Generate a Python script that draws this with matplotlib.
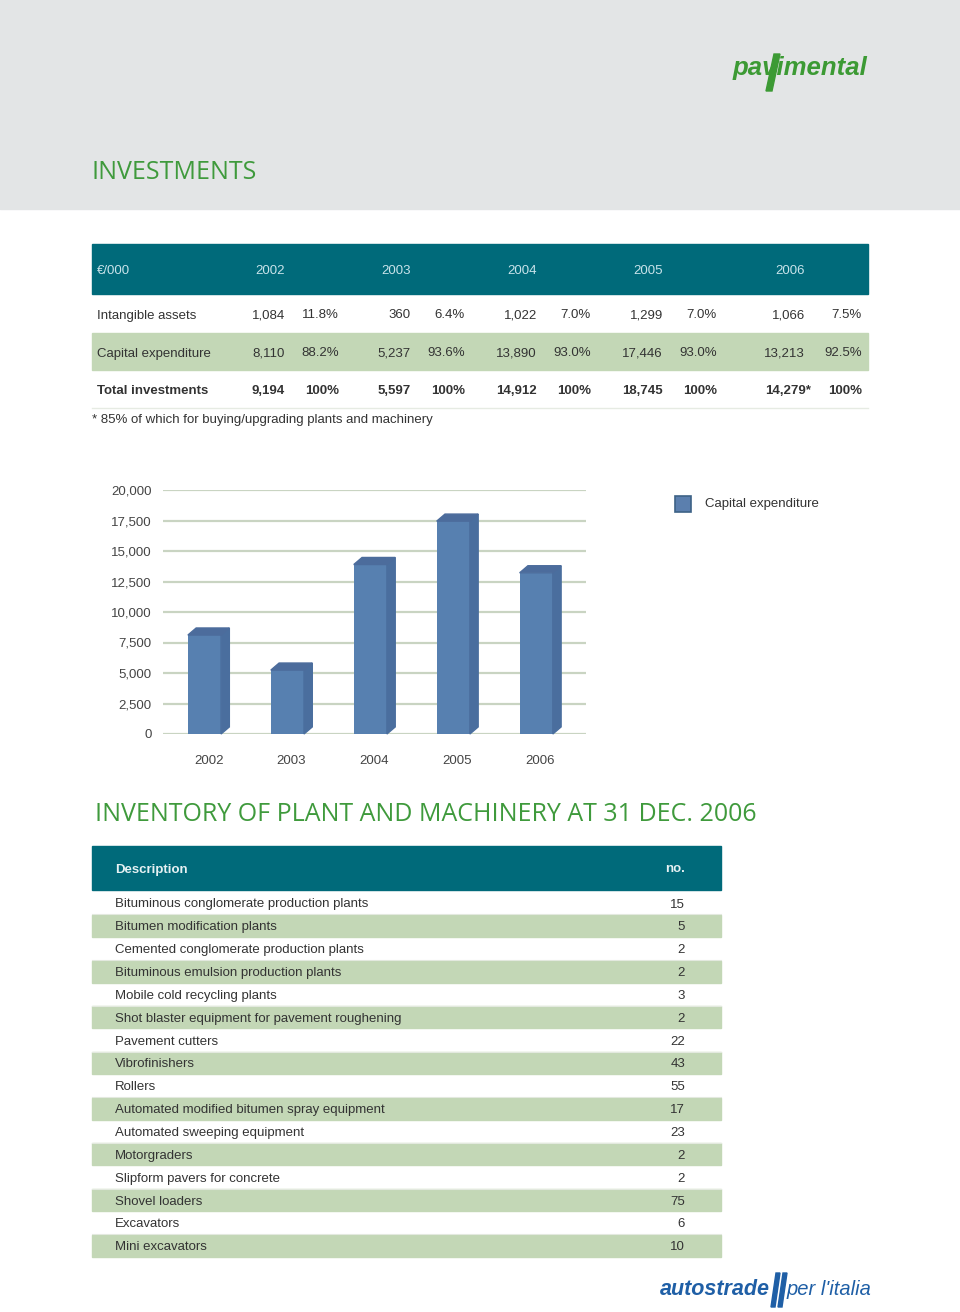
import matplotlib
matplotlib.use("Agg")
import matplotlib.pyplot as plt
from matplotlib.patches import Rectangle, Polygon

plt.rcParams['font.family'] = ['Liberation Sans', 'DejaVu Sans']

# ---- data ----
years = ['2002', '2003', '2004', '2005', '2006']
intangible = [1084, 360, 1022, 1299, 1066]
intangible_pct = ['11.8%', '6.4%', '7.0%', '7.0%', '7.5%']
capex = [8110, 5237, 13890, 17446, 13213]
capex_pct = ['88.2%', '93.6%', '93.0%', '93.0%', '92.5%']
total = [9194, 5597, 14912, 18745, 14279]
total_pct = ['100%', '100%', '100%', '100%', '100%']
total_note = ['', '', '', '', '*']

inventory_items = [
    'Bituminous conglomerate production plants',
    'Bitumen modification plants',
    'Cemented conglomerate production plants',
    'Bituminous emulsion production plants',
    'Mobile cold recycling plants',
    'Shot blaster equipment for pavement roughening',
    'Pavement cutters',
    'Vibrofinishers',
    'Rollers',
    'Automated modified bitumen spray equipment',
    'Automated sweeping equipment',
    'Motorgraders',
    'Slipform pavers for concrete',
    'Shovel loaders',
    'Excavators',
    'Mini excavators',
]
inventory_counts = [15, 5, 2, 2, 3, 2, 22, 43, 55, 17, 23, 2, 2, 75, 6, 10]

yticks = [0, 2500, 5000, 7500, 10000, 12500, 15000, 17500, 20000]

TEAL = '#006a7a'
GREEN_ROW = '#c3d7b6'
TITLE_GREEN = '#3f9a3c'
TEXT = '#333333'
GRID = '#c9d4c2'
FRONT = '#5780b0'
SIDE = '#4a6e9e'
TOP = '#4c6c9c'

W, H = 960, 1312
fig = plt.figure(figsize=(W / 100, H / 100), dpi=100)
fig.patch.set_facecolor('white')

page = fig.add_axes([0, 0, 1, 1])
page.set_xlim(0, W)
page.set_ylim(H, 0)
page.axis('off')


def txt(x, y, s, **kw):
    # small shift so the visual centre of the glyphs sits on y
    kw.setdefault('va', 'center')
    kw.setdefault('fontsize', 9.5)
    kw.setdefault('color', TEXT)
    return page.text(x, y + 1.5, s, **kw)


# top grey band
page.add_patch(Rectangle((0, 0), W, 209, color='#e3e5e6', zorder=0))

# pavimental logo
txt(800, 67, 'pavimental', fontsize=18.5, fontweight='bold', style='italic',
    color='#3c9a34', ha='center')
page.add_patch(Polygon([(774, 54), (780, 54), (772, 91), (766, 91)], color='#3c9a34'))

txt(92, 171, 'INVESTMENTS', fontsize=18, color=TITLE_GREEN,
    family=['Open Sans', 'DejaVu Sans'])

# ---- investments table ----
page.add_patch(Rectangle((92, 244), 776, 50, color=TEAL))
txt(97, 270, '€/000', color='#c9e3ea')
year_x = [270, 396, 522, 648, 790]
for x, y in zip(year_x, years):
    txt(x, 270, y, color='#c9e3ea', ha='center')

page.add_patch(Rectangle((92, 333), 776, 37, color=GREEN_ROW))
page.plot([92, 868], [408, 408], color='#e6ebe3', lw=1)

val_x = [285, 411, 537, 663, 805]
pct_x = [339, 465, 591, 717, 862]
rows = [
    ('Intangible assets', intangible, intangible_pct, 314, 'normal', None),
    ('Capital expenditure', capex, capex_pct, 352, 'normal', None),
    ('Total investments', total, total_pct, 390, 'bold', total_note),
]
for label, vals, pcts, y, wt, notes in rows:
    txt(97, y, label, fontweight=wt)
    for i, (v, p) in enumerate(zip(vals, pcts)):
        s = f'{v:,}' + (notes[i] if notes else '')
        xv = val_x[i] + (6 if notes and notes[i] else 0)
        txt(xv, y, s, ha='right', fontweight=wt)
        txt(pct_x[i], y, p, ha='right', fontweight=wt)

txt(92, 419, '* 85% of which for buying/upgrading plants and machinery')

# ---- bar chart ----
ax = fig.add_axes([163 / W, 1 - 734 / H, 423 / W, 244 / H])
ax.set_xlim(-0.5, 4.6)
ax.set_ylim(0, 20000)
for s in ax.spines.values():
    s.set_visible(False)
ax.set_yticks(yticks)
ax.set_yticklabels([f'{t:,}' for t in yticks])
ax.tick_params(axis='y', length=0, pad=8, labelsize=9.5, labelcolor='#444444')
ax.tick_params(axis='x', length=0, pad=15, labelsize=9.5, labelcolor='#444444')
ax.yaxis.grid(True, color=GRID, lw=1.6)
ax.set_axisbelow(True)
ax.patch.set_alpha(0)

bw = 0.4
dx = 0.1
dy = 580
xs = list(range(len(years)))
ax.bar(xs, capex, width=bw, color=FRONT, zorder=3)
for x, v in zip(xs, capex):
    x1 = x + bw / 2
    x0 = x - bw / 2
    ax.add_patch(Polygon([(x1, 0), (x1 + dx, dy), (x1 + dx, v + dy), (x1, v)],
                         color=SIDE, zorder=3, clip_on=False))
    ax.add_patch(Polygon([(x0, v), (x1, v), (x1 + dx, v + dy), (x0 + dx, v + dy)],
                         color=TOP, zorder=3, clip_on=False))
ax.set_xticks([x + dx / 2 for x in xs])
ax.set_xticklabels(years)

# legend
page.add_patch(Rectangle((675, 496), 16, 16, facecolor='#5b7fae', edgecolor='#3d6286', lw=1.2))
txt(705, 503, 'Capital expenditure')

# ---- inventory ----
txt(95, 813, 'INVENTORY OF PLANT AND MACHINERY AT 31 DEC. 2006', fontsize=18,
    color=TITLE_GREEN, family=['Open Sans', 'DejaVu Sans'])
page.add_patch(Rectangle((92, 846), 629, 44, color=TEAL))
txt(115, 868, 'Description', color='#e6f1f3', fontweight='bold')
txt(685, 868, 'no.', color='#e6f1f3', ha='right', fontweight='bold')

step = 22.85
for i, (item, n) in enumerate(zip(inventory_items, inventory_counts)):
    y = 903 + i * step
    if i % 2 == 1:
        page.add_patch(Rectangle((92, y - 11), 629, 22, color=GREEN_ROW))
    else:
        page.plot([92, 721], [y + 11.4, y + 11.4], color='#e3e9df', lw=0.8)
    txt(115, y, item)
    txt(685, y, str(n), ha='right')

# autostrade logo
txt(770, 1288, 'autostrade', fontsize=15.5, fontweight='bold', style='italic',
    color='#1f5fa6', ha='right')
page.add_patch(Polygon([(776, 1273), (780, 1273), (775, 1307), (771, 1307)], color='#1f5fa6'))
page.add_patch(Polygon([(783, 1273), (787, 1273), (782, 1307), (778, 1307)], color='#1f5fa6'))
txt(787, 1288, "per l'italia", fontsize=14.5, style='italic', color='#1f5fa6', ha='left')

fig.savefig('out.png', dpi=100, facecolor='white')
